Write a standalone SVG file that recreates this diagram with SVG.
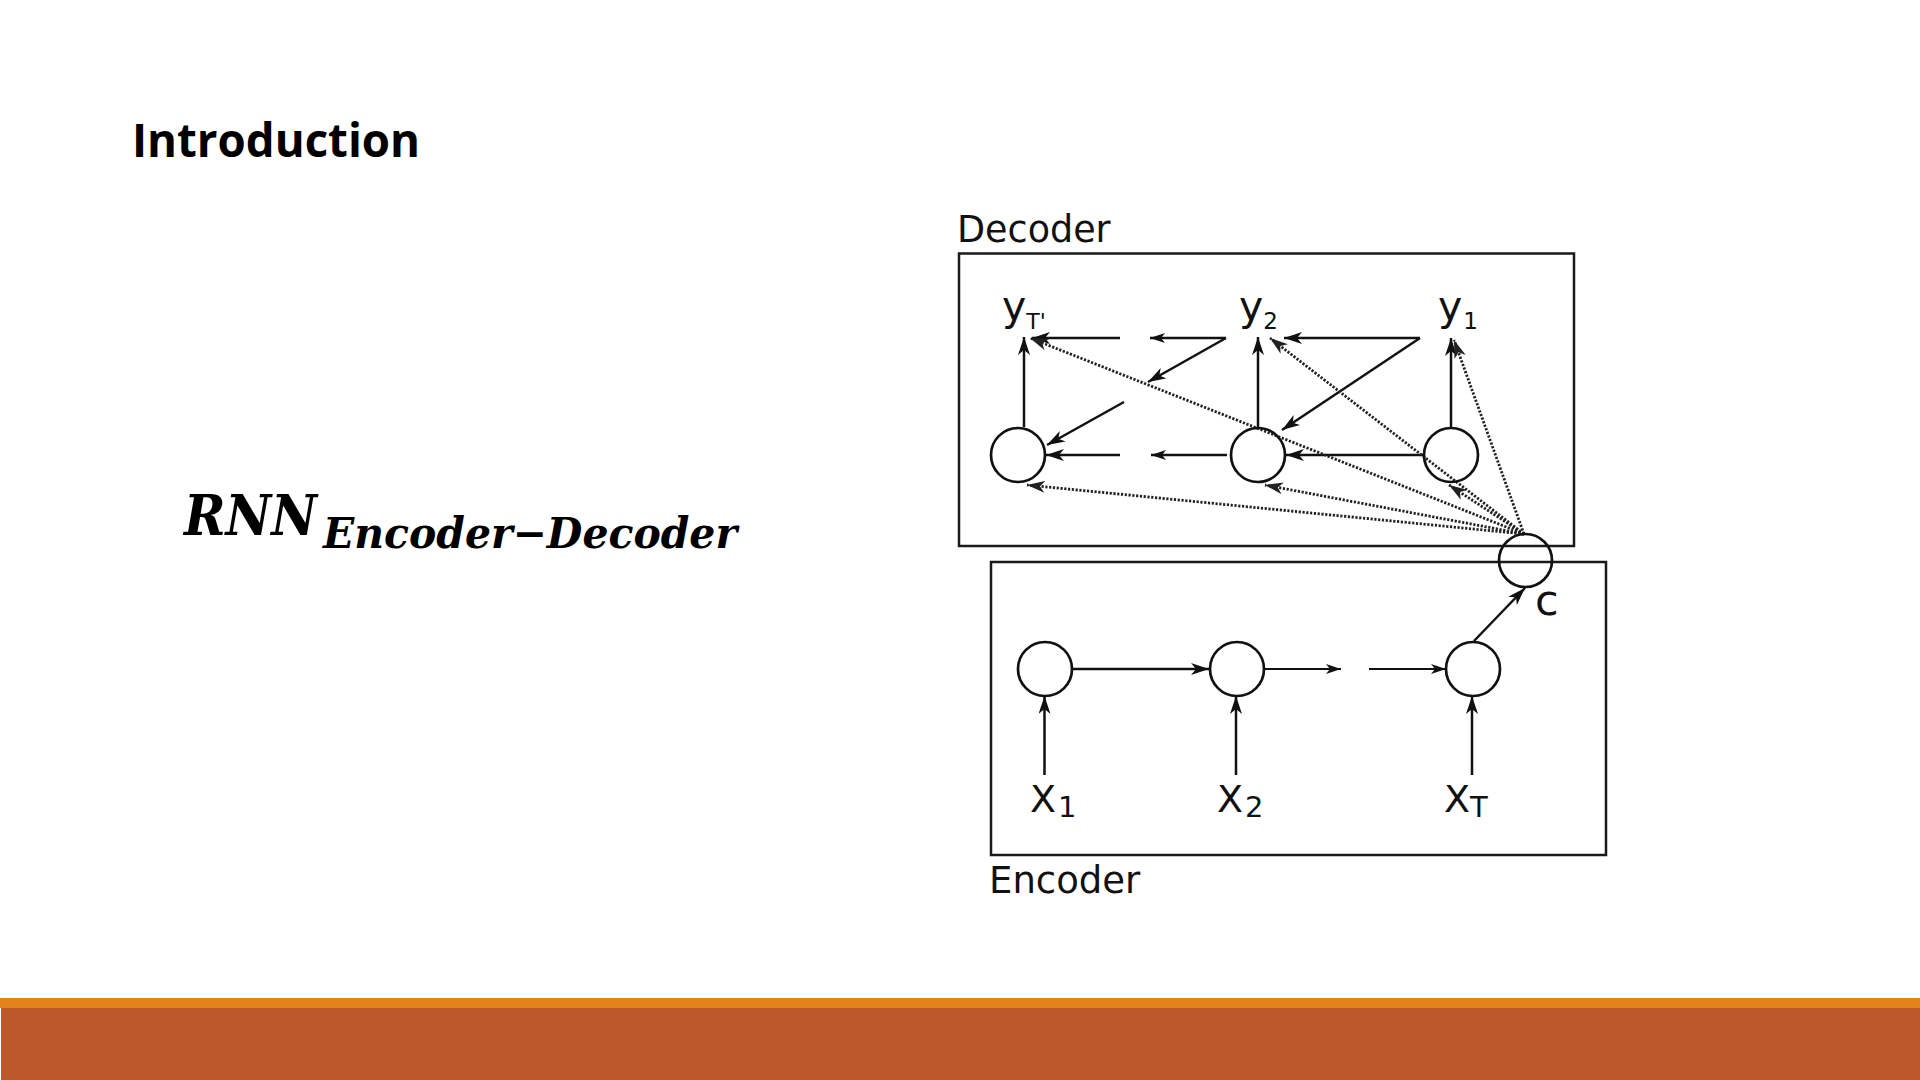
<svg xmlns="http://www.w3.org/2000/svg" width="1920" height="1080" viewBox="0 0 1920 1080">
<style>
.box{fill:none;stroke:#1a1a1a;stroke-width:2.5}
.node{fill:none;stroke:#111;stroke-width:2.7}
.lbl{font-family:"DejaVu Sans",sans-serif;fill:#111}
.ln{fill:none;stroke:#111;stroke-width:2.5}
.thin{fill:none;stroke:#111;stroke-width:1.8}
.dot{fill:none;stroke:#222;stroke-width:2.8;stroke-dasharray:2.2 1.6}
</style>
<defs>
<marker id="ah" viewBox="0 0 18 12" refX="18" refY="6" markerWidth="18" markerHeight="12" markerUnits="userSpaceOnUse" orient="auto"><path d="M0,0 L18,6 L0,12 L5,6 z" fill="#111"/></marker>
<marker id="ahs" viewBox="0 0 15 10" refX="15" refY="5" markerWidth="15" markerHeight="10" markerUnits="userSpaceOnUse" orient="auto"><path d="M0,0 L15,5 L0,10 L4,5 z" fill="#111"/></marker>
<marker id="ahd" viewBox="0 0 18 12" refX="18" refY="6" markerWidth="18" markerHeight="12" markerUnits="userSpaceOnUse" orient="auto"><path d="M0,0 L18,6 L0,12 L5,6 z" fill="#222"/></marker>
</defs>
<rect x="0" y="0" width="1920" height="1080" fill="#fff"/>
<g id="title"><text x="132" y="157" font-family="'Open Sans',sans-serif" font-weight="700" font-size="47" textLength="288" lengthAdjust="spacingAndGlyphs" fill="#000">Introduction</text></g>
<g id="formula" font-family="'DejaVu Serif',serif" font-weight="700" font-style="italic" fill="#000">
<text x="184" y="535" font-size="56" textLength="133" lengthAdjust="spacingAndGlyphs">RNN</text>
<text x="323" y="548" font-size="42" textLength="414" lengthAdjust="spacingAndGlyphs">Encoder−Decoder</text>
</g>
<g id="decoder-box"><rect class="box" x="959" y="253.5" width="615" height="292.5"/><text class="lbl" x="957" y="242" font-size="36.5">Decoder</text></g>
<g id="encoder-box"><rect class="box" x="991" y="562" width="615" height="293"/><text class="lbl" x="989" y="893" font-size="37">Encoder</text></g>
<g id="connectors">
<line class="ln" x1="1024" y1="427" x2="1024" y2="337" marker-end="url(#ah)"/>
<line class="ln" x1="1258" y1="427" x2="1258" y2="337" marker-end="url(#ah)"/>
<line class="ln" x1="1451" y1="427" x2="1451" y2="338" marker-end="url(#ah)"/>
<line class="ln" x1="1120" y1="338" x2="1032" y2="338" marker-end="url(#ah)"/>
<line class="ln" x1="1226" y1="338" x2="1150" y2="338" marker-end="url(#ahs)"/>
<line class="ln" x1="1420" y1="338" x2="1284" y2="338" marker-end="url(#ah)"/>
<line class="ln" x1="1226" y1="338" x2="1148" y2="382" marker-end="url(#ah)"/>
<line class="ln" x1="1420" y1="338" x2="1282" y2="430" marker-end="url(#ah)"/>
<line class="ln" x1="1124" y1="402" x2="1047" y2="445" marker-end="url(#ah)"/>
<line class="ln" x1="1120" y1="455" x2="1046" y2="455" marker-end="url(#ah)"/>
<line class="ln" x1="1227" y1="455" x2="1151" y2="455" marker-end="url(#ahs)"/>
<line class="ln" x1="1423" y1="455" x2="1286" y2="455" marker-end="url(#ah)"/>
<line class="dot" x1="1524" y1="534" x2="1030" y2="338" marker-end="url(#ahd)"/>
<line class="dot" x1="1524" y1="534" x2="1270" y2="338" marker-end="url(#ahd)"/>
<line class="dot" x1="1524" y1="534" x2="1454" y2="340" marker-end="url(#ahd)"/>
<line class="dot" x1="1524" y1="534" x2="1027" y2="485" marker-end="url(#ahd)"/>
<line class="dot" x1="1524" y1="534" x2="1265" y2="485" marker-end="url(#ahd)"/>
<line class="dot" x1="1524" y1="534" x2="1449" y2="485" marker-end="url(#ahd)"/>
<line class="ln" x1="1072" y1="669" x2="1209" y2="669" marker-end="url(#ah)"/>
<line class="thin" x1="1264" y1="669" x2="1341" y2="669" marker-end="url(#ahs)"/>
<line class="thin" x1="1369" y1="669" x2="1446" y2="669" marker-end="url(#ahs)"/>
<line class="ln" x1="1044.5" y1="775" x2="1044.5" y2="696" marker-end="url(#ah)"/>
<line class="ln" x1="1236" y1="775" x2="1236" y2="696" marker-end="url(#ah)"/>
<line class="ln" x1="1472" y1="775" x2="1472" y2="696" marker-end="url(#ah)"/>
<line class="ln" x1="1474" y1="641" x2="1525" y2="588" marker-end="url(#ah)"/>
</g>
<g id="dec-h1"><circle class="node" cx="1018" cy="455" r="27"/></g>
<g id="dec-h2"><circle class="node" cx="1258" cy="455" r="27"/></g>
<g id="dec-h3"><circle class="node" cx="1451" cy="455" r="27"/></g>
<g id="y-T"><text class="lbl" x="1002" y="320" font-size="41">y<tspan font-size="22" dy="9">T'</tspan></text></g>
<g id="y-2"><text class="lbl" x="1239" y="320" font-size="41">y<tspan font-size="23" dy="9">2</tspan></text></g>
<g id="y-1"><text class="lbl" x="1438" y="320" font-size="41">y<tspan font-size="23" dx="1" dy="9">1</tspan></text></g>
<g id="context"><circle class="node" cx="1525.5" cy="560.5" r="26.5"/><text class="lbl" x="1535" y="615" font-size="43">c</text></g>
<g id="enc-h1"><circle class="node" cx="1045" cy="669" r="27"/></g>
<g id="enc-h2"><circle class="node" cx="1237" cy="669" r="27"/></g>
<g id="enc-h3"><circle class="node" cx="1473" cy="669" r="27"/></g>
<g id="x-1"><text class="lbl" x="1030" y="812" font-size="38">X<tspan font-size="29" dx="2" dy="5">1</tspan></text></g>
<g id="x-2"><text class="lbl" x="1217" y="812" font-size="38">X<tspan font-size="29" dx="2" dy="5">2</tspan></text></g>
<g id="x-T"><text class="lbl" x="1444" y="812" font-size="38">X<tspan font-size="29" dy="5">T</tspan></text></g>
<g id="footer"><rect x="0" y="998" width="1920" height="10" fill="#E4831A"/><rect x="1" y="1008" width="1919" height="72" fill="#BC582C"/></g>
</svg>
